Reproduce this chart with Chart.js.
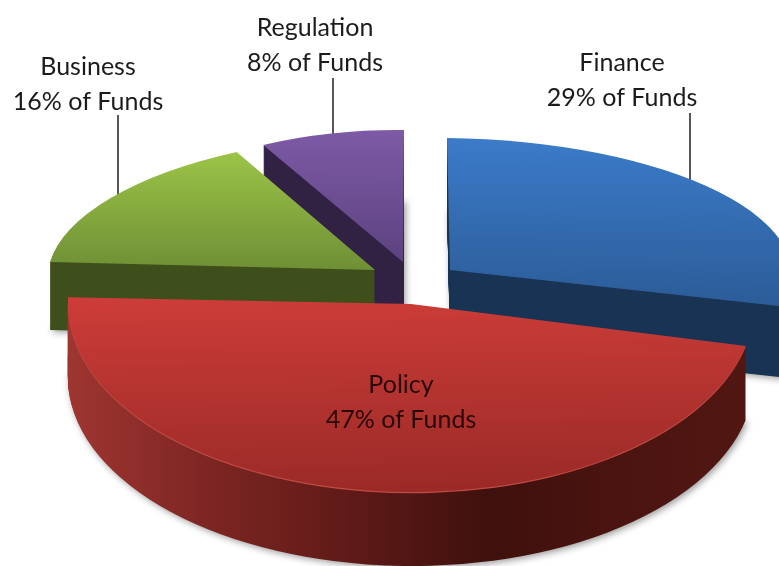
<!DOCTYPE html>
<html>
<head>
<meta charset="utf-8">
<title>Funds</title>
<script src="https://cdn.jsdelivr.net/npm/chart.js@4"></script>
<style>
  html, body { margin: 0; padding: 0; background: #fff; overflow: hidden; }
  canvas { display: block; filter: blur(0.5px); }
</style>
</head>
<body>
<canvas id="fundsChart" width="779" height="566"></canvas>
<script>
const categories = ["Finance", "Policy", "Business", "Regulation"];
const funds = [29, 47, 16, 8];

// view of each slice: where its apex lands and the matrix that tilts the circle
const apexX = [450, 411, 375, 403];
const apexY = [270, 304, 270, 262];
const tilt = [
  [342, 3.5, 3, 132],
  [343, -5, 10, 188],
  [327, -0.5, -22, 135],
  [292, 3, -1, 132]
];
const depth = [71, 74, 68, 70];
const drawOrder = [3, 0, 2, 1];

const topColors = [
  ["#3b7bc9", "#2c5c98"],
  ["#cf3d39", "#9a2a27"],
  ["#9dc548", "#6f8f35"],
  ["#7e5aa6", "#5c4280"]
];
// vertical span of the top gradient, in radii from the apex
const topSpan = [[-1, 0.25], [-0.1, 1], [-0.9, 0], [-1, 0]];
const wallColors = [
  ["#183353", "#183353"],
  ["#9e3531", "#7c2522", "#5f1a17", "#3f100d", "#4b1410", "#521713"],
  ["#3f4f1c", "#3f4f1c"],
  ["#312244", "#312244"]
];
const rimColors = [null, "#c04a44", null, null];

const labelX = [622, 401, 88, 315];
const labelY = [63, 385, 67, 28];
const labelColors = ["#1b1b1b", "#2a0807", "#1b1b1b", "#1b1b1b"];
const leaders = [[690, 113, 195], null, [118, 115, 205], [333, 78, 145]];

function drawSlice(chart, arc, i, z, fill, shadow) {
  const ctx = chart.ctx;
  const R = arc.outerRadius;
  const m = tilt[i];
  const saved = arc.options;
  ctx.save();
  if (shadow) {
    ctx.shadowColor = "rgba(0,0,0,0.4)";
    ctx.shadowBlur = 7;
    ctx.shadowOffsetX = 2;
    ctx.shadowOffsetY = 2;
  }
  ctx.translate(apexX[i], apexY[i] + z);
  ctx.transform(m[0] / R, m[1] / R, m[2] / R, m[3] / R, 0, 0);
  ctx.translate(-arc.x, -arc.y);
  arc.options = Object.assign({}, saved, { backgroundColor: fill, borderWidth: 0 });
  arc.draw(ctx);
  arc.options = saved;
  ctx.restore();
}

const pie3d = {
  id: "pie3d",
  beforeDatasetsDraw(chart) {
    const ctx = chart.ctx;
    const arcs = chart.getDatasetMeta(0).data;

    // leader lines go under the slices so they stop at the slice edge
    ctx.save();
    ctx.strokeStyle = "#111";
    ctx.lineWidth = 1.4;
    leaders.forEach(l => {
      if (!l) return;
      ctx.beginPath();
      ctx.moveTo(l[0], l[1]);
      ctx.lineTo(l[0], l[2]);
      ctx.stroke();
    });
    ctx.restore();

    drawOrder.forEach(i => {
      const arc = arcs[i];
      const R = arc.outerRadius;

      const wall = ctx.createLinearGradient(arc.x - R, 0, arc.x + R, 0);
      wallColors[i].forEach((c, k) => wall.addColorStop(k / (wallColors[i].length - 1), c));
      for (let z = depth[i]; z >= 1; z--) {
        drawSlice(chart, arc, i, z, wall, z === depth[i]);
      }

      if (rimColors[i]) drawSlice(chart, arc, i, 1.2, rimColors[i], false);

      const top = ctx.createLinearGradient(0, arc.y + topSpan[i][0] * R, 0, arc.y + topSpan[i][1] * R);
      top.addColorStop(0, topColors[i][0]);
      top.addColorStop(1, topColors[i][1]);
      drawSlice(chart, arc, i, 0, top, false);
    });
    return false;
  },
  afterDraw(chart) {
    const ctx = chart.ctx;
    ctx.save();
    ctx.font = "25px Lato";
    ctx.textAlign = "center";
    ctx.textBaseline = "middle";
    categories.forEach((name, i) => {
      ctx.fillStyle = labelColors[i];
      ctx.fillText(name, labelX[i], labelY[i]);
      ctx.fillText(funds[i] + "% of Funds", labelX[i], labelY[i] + 35);
    });
    ctx.restore();
  }
};

new Chart(document.getElementById("fundsChart").getContext("2d"), {
  type: "pie",
  data: {
    labels: categories,
    datasets: [{
      data: funds,
      backgroundColor: topColors.map(c => c[0]),
      borderWidth: 0
    }]
  },
  options: {
    responsive: false,
    animation: false,
    events: [],
    layout: { padding: 0 },
    plugins: {
      legend: { display: false },
      tooltip: { enabled: false }
    }
  },
  plugins: [pie3d]
});
</script>
</body>
</html>
